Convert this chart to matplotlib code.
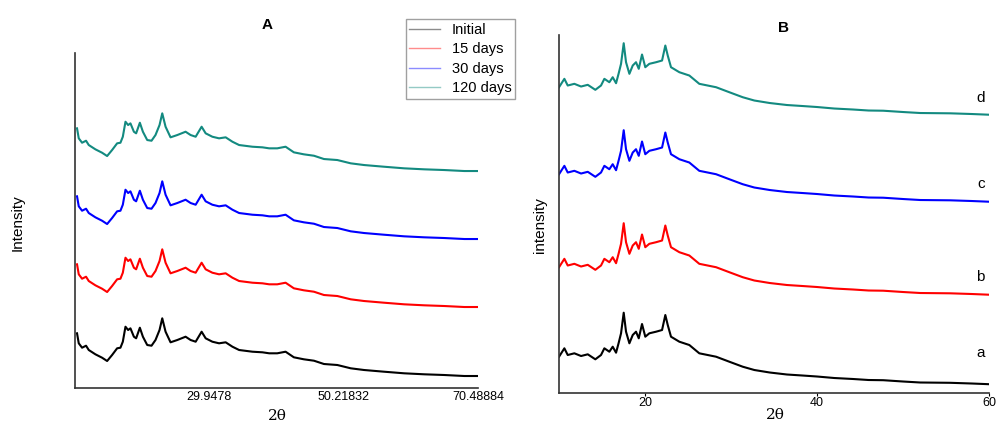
import numpy as np
import matplotlib
matplotlib.use('Agg')
import matplotlib.pyplot as plt

plt.rcParams['font.family'] = ['Liberation Sans', 'DejaVu Sans']

# panel A: XRD pattern (same profile for every ageing time, stacked)
a_theta = [9.98, 10.24, 10.74, 11.34, 11.75, 12.75, 13.76, 14.52, 15.27, 16.03,
           16.53, 16.89, 17.29, 17.69, 18.04, 18.56, 18.90, 19.46, 19.92, 20.57,
           21.22, 21.82, 22.43, 22.84, 23.34, 24.09, 25.11, 26.36, 27.12, 27.88,
           28.78, 29.39, 30.40, 31.41, 32.41, 33.43, 34.44, 36.45, 37.96, 38.98,
           40.19, 41.45, 42.70, 44.21, 45.73, 47.24, 49.26, 51.28, 53.29, 56.31,
           59.34, 62.37, 65.39, 68.42, 70.49]
a_int = [54.7, 44.7, 40.3, 42.3, 38, 33.7, 30.3, 27, 33, 39.7,
         40.3, 46.3, 61.3, 58, 59.7, 51.3, 49.7, 60.3, 51.3, 43,
         42.3, 48, 58, 69.7, 56.3, 45.7, 48, 51.3, 48, 46.3,
         56.3, 49.7, 46.3, 44.7, 45.7, 41.3, 38, 36.3, 35.7, 34.7,
         34.7, 36.3, 30.7, 28.7, 27.3, 24, 23, 19.7, 18, 16.3,
         14.7, 13.7, 13, 12, 12]
a_labels = ['Initial', '15 days', '30 days', '120 days']
a_offsets = [0, 69, 137, 205]
a_ticks = [29.9478, 50.21832, 70.48884]

# panel B
b_theta = [10.0, 10.62, 11.01, 11.78, 12.56, 13.34, 14.22, 14.88, 15.27, 15.85,
           16.24, 16.63, 16.94, 17.21, 17.52, 17.79, 18.18, 18.57, 18.95, 19.27,
           19.65, 20.03, 20.5, 21.28, 21.98, 22.36, 22.64, 23.02, 23.99, 25.15,
           26.31, 28.26, 29.8, 31.36, 32.71, 34.5, 36.5, 38.3, 40.0, 42.0,
           44.2, 46.0, 47.7, 50.0, 52.0, 55.5, 58.0, 60.0]
b_int = [36.3, 44.7, 38, 39.7, 37, 38.7, 33.7, 38, 44.7, 41.3,
         46.3, 40.3, 50.3, 59.7, 80.3, 61.3, 49.7, 58, 61.3, 54.7,
         69, 56.3, 59.7, 61.3, 63, 78, 68, 56.3, 51.3, 48,
         39.7, 36.3, 31.3, 26.3, 23, 20.5, 18.5, 17.5, 16.5, 15,
         14, 13, 12.8, 11.5, 10.5, 10.2, 9.5, 8.8]
b_labels = ['a', 'b', 'c', 'd']
b_offsets = [0, 89.5, 182.5, 269.5]
b_label_y = [40, 116, 209, 295]
b_ticks = [20, 40, 60]

colors = ['black', 'red', 'blue', '#138a80']

fig = plt.figure(figsize=(9.99, 4.24), dpi=100)
axA = fig.add_axes([0.0751, 0.0849, 0.4034, 0.790])
axB = fig.add_axes([0.5596, 0.0731, 0.4304, 0.8443])

for ax in (axA, axB):
	for s in ('top', 'right'):
		ax.spines[s].set_visible(False)
	for s in ('left', 'bottom'):
		ax.spines[s].set_color('#333333')
		ax.spines[s].set_linewidth(1.2)
	ax.set_yticks([])

# A
for i in range(4):
	axA.plot(a_theta, np.array(a_int) + a_offsets[i], color=colors[i], lw=1.5)
axA.set_xlim(9.67728, 70.48884)
axA.set_ylim(0, 335)
axA.set_xticks(a_ticks)
axA.set_xticklabels(['29.9478', '50.21832', '70.48884'], fontsize=9)
axA.tick_params(axis='x', length=0, pad=2)
axA.set_xlabel('2θ', fontsize=11, family='DejaVu Serif')
axA.xaxis.set_label_coords(0.501, -0.063)
axA.set_ylabel('Intensity', fontsize=11)
axA.yaxis.set_label_coords(-0.124, 0.493)
fig.text(0.267, 0.942, 'A', fontsize=11, fontweight='bold', ha='center', va='center')

leg_handles = [plt.Line2D([], [], color=c, lw=1.0, alpha=0.45) for c in colors]
fig.legend(leg_handles, a_labels, loc='upper left', bbox_to_anchor=(0.406, 0.955),
           fontsize=10.5, frameon=True, fancybox=False, edgecolor='#888888',
           handlelength=2.1, handletextpad=0.8, labelspacing=0.38,
           borderpad=0.25, borderaxespad=0)

# B
for i in range(4):
	axB.plot(b_theta, np.array(b_int) + b_offsets[i], color=colors[i], lw=1.5)
	axB.text(59.5, b_label_y[i], b_labels[i], fontsize=11, ha='right', va='center')
axB.set_xlim(10, 60)
axB.set_ylim(0, 358)
axB.set_xticks(b_ticks)
axB.tick_params(axis='x', length=2, pad=1, labelsize=9)
axB.set_xlabel('2θ', fontsize=11, family='DejaVu Serif')
axB.xaxis.set_label_coords(0.502, -0.043)
axB.set_ylabel('intensity', fontsize=11)
axB.yaxis.set_label_coords(-0.028, 0.469)
fig.text(0.784, 0.934, 'B', fontsize=11, fontweight='bold', ha='center', va='center')

plt.savefig('out.png', dpi=100)
